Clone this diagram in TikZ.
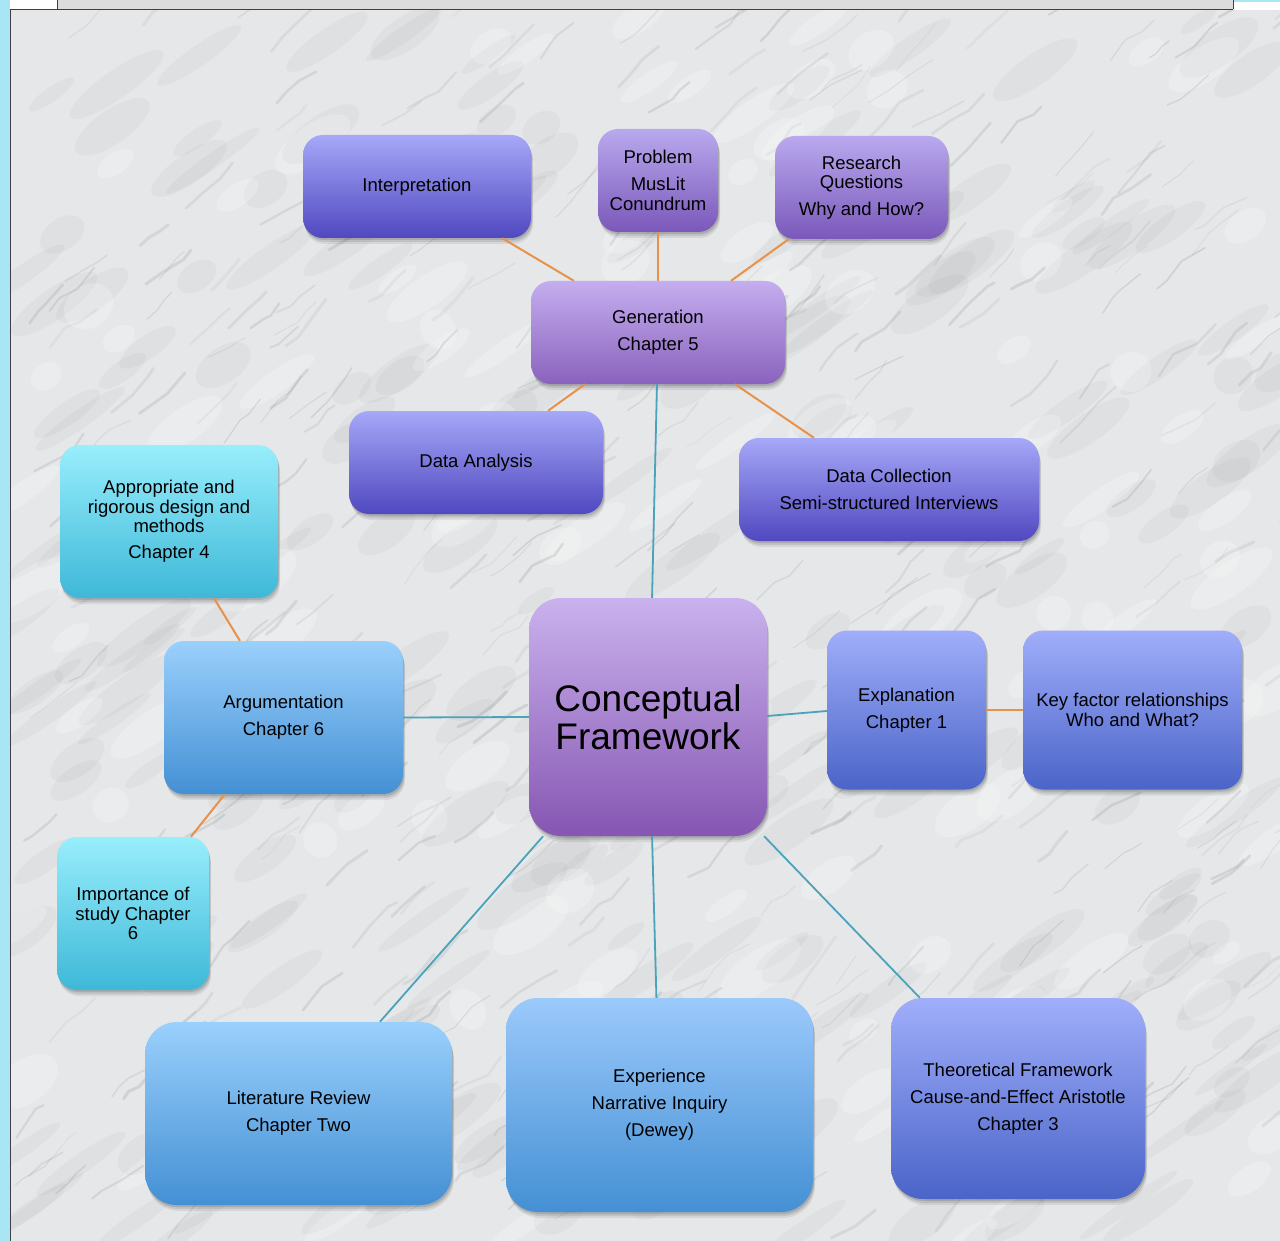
\documentclass[tikz,border=0pt]{standalone}
\usepackage{fontspec}
\setmainfont{Liberation Sans}
\usetikzlibrary{calc}

% palette
\definecolor{marble}{HTML}{E5E7E8}
\definecolor{vein}{HTML}{75797D}
\definecolor{framecyan}{HTML}{A8E6F6}
\definecolor{bandgray}{HTML}{DCDCDC}
\definecolor{linkorange}{HTML}{E8914A}
\definecolor{linkteal}{HTML}{4AA3BA}
\definecolor{purpleT}{HTML}{B9A9EE}\definecolor{purpleB}{HTML}{7A58BA}
\definecolor{genT}{HTML}{C4AEEE}\definecolor{genB}{HTML}{8A62BE}
\definecolor{cfT}{HTML}{CAB2EE}\definecolor{cfB}{HTML}{8656B2}
\definecolor{indigoT}{HTML}{A6A8F8}\definecolor{indigoB}{HTML}{5048C0}
\definecolor{blueT}{HTML}{A0AEFA}\definecolor{blueB}{HTML}{4A64C8}
\definecolor{cyanT}{HTML}{98EEFC}\definecolor{cyanB}{HTML}{3EB8D8}
\definecolor{skyT}{HTML}{9AD0FC}\definecolor{skyB}{HTML}{4490D4}

\tikzset{
  softshadow/.style={
    preaction={fill=black, opacity=0.07, transform canvas={shift={(2pt,-6pt)}}},
    preaction={fill=black, opacity=0.09, transform canvas={shift={(1.5pt,-4pt)}}},
    preaction={fill=black, opacity=0.12, transform canvas={shift={(1pt,-2pt)}}}},
  card/.style={draw=none, rounded corners=20pt, align=center, inner sep=0pt,
    font=\fontsize{18.5}{19.5}\selectfont, softshadow},
  bigcard/.style={card, rounded corners=32pt},
  purplecard/.style={top color=purpleT, bottom color=purpleB},
  gencard/.style={top color=genT, bottom color=genB},
  cfcard/.style={top color=cfT, bottom color=cfB},
  indigocard/.style={top color=indigoT, bottom color=indigoB},
  bluecard/.style={top color=blueT, bottom color=blueB},
  cyancard/.style={top color=cyanT, bottom color=cyanB},
  skycard/.style={top color=skyT, bottom color=skyB},
  orangelink/.style={draw=linkorange, line width=2pt},
  teallink/.style={draw=linkteal, line width=1.8pt},
}

\begin{document}
\begin{tikzpicture}[x=1pt,y=-1pt]
\useasboundingbox (0,0) rectangle (1280,1241);

% window frame
\fill[framecyan] (0,0) rectangle (10,1241);
\fill[white] (11,0) rectangle (57,9);
\fill[bandgray] (58,0) rectangle (1233,9);
\fill[framecyan] (1234,0) rectangle (1280,2);
\fill[white] (1234,2) rectangle (1280,9);

% marble background: soft grey clouds and thin wandering veins
\fill[marble] (11,10) rectangle (1280,1241);
\begin{scope}
  \clip (11,10) rectangle (1280,1241);
  \pgfmathsetseed{12}
  \foreach \i in {1,...,260}{
    \pgfmathsetmacro\xa{10+1270*rnd}
    \pgfmathsetmacro\ya{10+1231*rnd}
    \pgfmathsetmacro\ra{20+40*rnd}
    \pgfmathsetmacro\rb{6+12*rnd}
    \fill[vein, opacity=0.06, rotate around={35:(\xa,\ya)}] (\xa,\ya) ellipse [x radius=\ra pt, y radius=\rb pt];
  }
  \foreach \i in {1,...,140}{
    \pgfmathsetmacro\xa{10+1270*rnd}
    \pgfmathsetmacro\ya{10+1231*rnd}
    \pgfmathsetmacro\ra{15+35*rnd}
    \pgfmathsetmacro\rb{8+14*rnd}
    \fill[white, opacity=0.22, rotate around={35:(\xa,\ya)}] (\xa,\ya) ellipse [x radius=\ra pt, y radius=\rb pt];
  }
  \foreach \i in {1,...,420}{
    \pgfmathsetmacro\xa{10+1270*rnd}
    \pgfmathsetmacro\ya{10+1231*rnd}
    \pgfmathsetmacro\aa{-40+18*rand}
    \pgfmathsetmacro\ab{-40+18*rand}
    \pgfmathsetmacro\ac{-40+18*rand}
    \pgfmathsetmacro\la{8+20*rnd}
    \pgfmathsetmacro\lb{8+20*rnd}
    \pgfmathsetmacro\lc{8+20*rnd}
    \pgfmathsetmacro\wd{0.8+2.4*rnd}
    \pgfmathsetmacro\op{0.07+0.12*rnd}
    \draw[line width=\wd pt, line cap=round, line join=round, vein, opacity=\op]
      (\xa,\ya) -- ++(\aa:\la) -- ++(\ab:\lb) -- ++(\ac:\lc);
  }
\end{scope}
\draw[black!75, line width=1pt] (57,0) -- (57,9) (1233,0) -- (1233,9)
  (10,9.5) -- (1233,9.5) (10.5,9) -- (10.5,1241);

% nodes
\node[card, indigocard, minimum width=228pt, minimum height=103pt] (interp) at (417,186.5) {Interpretation};
\node[card, purplecard, minimum width=120pt, minimum height=103pt] (prob) at (658,180.5) {Problem\\[7.5pt]MusLit\\Conundrum};
\node[card, purplecard, minimum width=173pt, minimum height=103pt] (rq) at (861.5,187.5) {Research\\Questions\\[7.5pt]Why and How?};
\node[card, gencard, minimum width=254pt, minimum height=103pt] (gen) at (658,332.5) {Generation\\[7.5pt]Chapter 5};
\node[card, indigocard, minimum width=254pt, minimum height=103pt] (da) at (476,462.5) {Data Analysis};
\node[card, indigocard, minimum width=300pt, minimum height=103pt] (dc) at (889,489.5) {Data Collection\\[7.5pt]Semi-structured Interviews};
\node[card, cyancard, minimum width=218pt, minimum height=153pt] (appr) at (169,521.5) {Appropriate and\\rigorous design and\\methods\\[6.5pt]Chapter 4};
\node[card, skycard, minimum width=239pt, minimum height=153pt] (arg) at (283.5,717.5) {Argumentation\\[7.5pt]Chapter 6};
\node[card, cyancard, minimum width=152pt, minimum height=153pt] (imp) at (133,913.5) {Importance of\\study Chapter\\6};
\node[bigcard, cfcard, minimum width=238pt, minimum height=238pt, font=\fontsize{37}{38}\selectfont] (cf) at (648,717) {Conceptual\\Framework};
\node[card, bluecard, minimum width=159pt, minimum height=159pt] (expl) at (906.5,710) {Explanation\\[7.5pt]Chapter 1};
\node[card, bluecard, minimum width=219pt, minimum height=159pt] (key) at (1132.5,710) {Key factor relationships\\Who and What?};
\node[bigcard, skycard, minimum width=307pt, minimum height=183pt] (lit) at (298.5,1113.5) {Literature Review\\[7.5pt]Chapter Two};
\node[bigcard, skycard, top color=skyT!80!blueT, minimum width=307pt, minimum height=214pt] (exp) at (659.5,1105) {Experience\\[7.5pt]Narrative Inquiry\\[7.5pt](Dewey)};
\node[bigcard, bluecard, minimum width=254pt, minimum height=201pt] (theo) at (1018,1098.5) {Theoretical Framework\\[7.5pt]Cause-and-Effect Aristotle\\[7.5pt]Chapter 3};

% connectors
\draw[orangelink] ($(interp.south west)!0.873!(interp.south east)$) -- ($(gen.north west)!0.169!(gen.north east)$);
\draw[orangelink] (prob.south) -- (prob.south |- gen.north);
\draw[orangelink] ($(rq.south west)!0.08!(rq.south east)$) -- ($(gen.north west)!0.787!(gen.north east)$);
\draw[orangelink] ($(gen.south west)!0.213!(gen.south east)$) -- ($(da.north west)!0.783!(da.north east)$);
\draw[orangelink] ($(gen.south west)!0.803!(gen.south east)$) -- ($(dc.north west)!0.25!(dc.north east)$);
\draw[teallink] ($(gen.south west)!0.496!(gen.south east)$) -- ($(cf.north west)!0.517!(cf.north east)$);
\draw[orangelink] ($(appr.south west)!0.706!(appr.south east)$) -- ($(arg.north west)!0.318!(arg.north east)$);
\draw[teallink] (arg.east) -- (cf.west);
\draw[orangelink] ($(arg.south west)!0.255!(arg.south east)$) -- ($(imp.north west)!0.88!(imp.north east)$);
\draw[teallink] ([yshift=1pt]cf.east) -- ([yshift=-1pt]expl.west);
\draw[orangelink] (expl.east) -- (key.west);
\draw[teallink] ($(cf.south west)!0.06!(cf.south east)$) -- ($(lit.north west)!0.765!(lit.north east)$);
\draw[teallink] ($(cf.south west)!0.517!(cf.south east)$) -- ($(exp.north west)!0.49!(exp.north east)$);
\draw[teallink] ($(cf.south west)!0.987!(cf.south east)$) -- ($(theo.north west)!0.114!(theo.north east)$);
\end{tikzpicture}
\end{document}
